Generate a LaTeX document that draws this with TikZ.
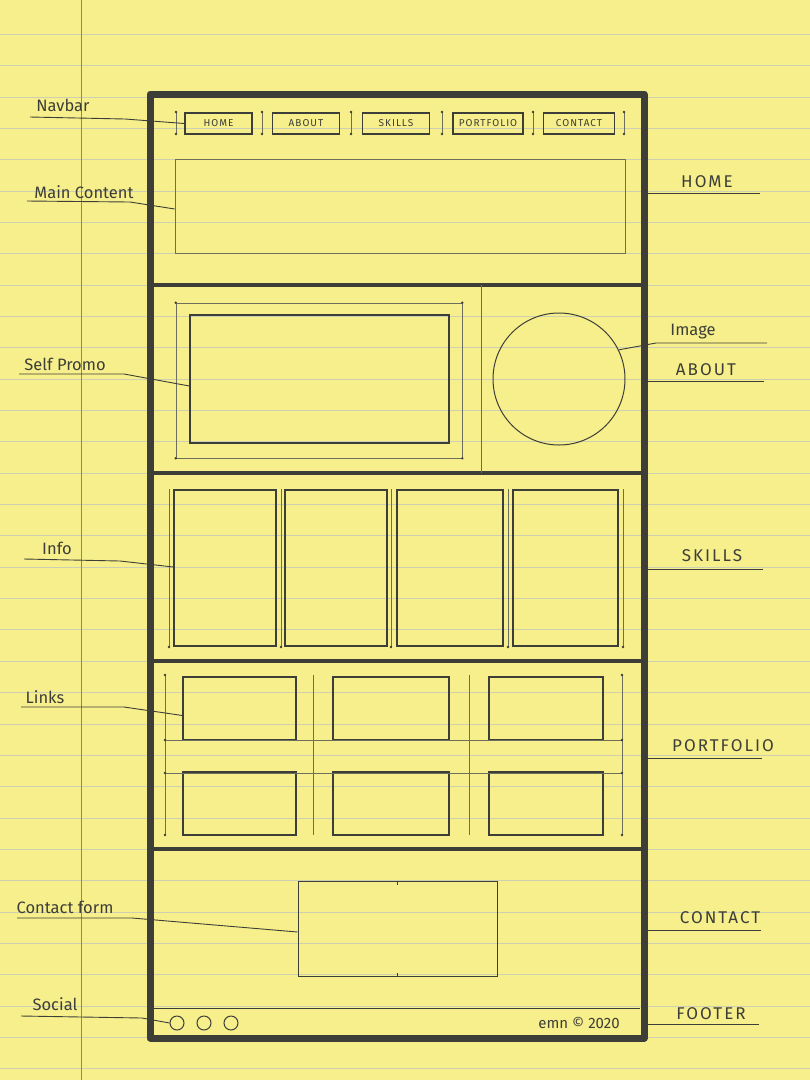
\documentclass[tikz,border=0pt]{standalone}
\usepackage{fontspec}
\setmainfont{Fira Sans}
\newfontfamily\navfont[LetterSpace=10]{Fira Sans}
\newfontfamily\capsfont[LetterSpace=12]{Fira Sans}
\usetikzlibrary{positioning,calc}
\definecolor{paper}{RGB}{246,239,140}
\definecolor{ruled}{RGB}{204,207,178}
\definecolor{margin}{RGB}{232,96,72}
\definecolor{ink}{RGB}{62,62,56}
\definecolor{pencil}{RGB}{110,110,92}
\tikzset{
  frame/.style={draw=ink, line width=7pt, line join=round, inner sep=0pt},
  divider/.style={ink, line width=4.5pt, line cap=round},
  box/.style={draw=ink, line width=1.2pt, inner sep=0pt},
  guide/.style={pencil, line width=0.5pt},
  leader/.style={ink, line width=0.9pt},
  tag/.style={text=ink, font=\fontsize{16.5}{19}\selectfont, inner sep=1pt},
  captag/.style={text=ink, font=\capsfont\fontsize{17}{20}\selectfont, inner sep=1pt},
  navbtn/.style={draw=ink, line width=1.2pt, minimum width=67pt, minimum height=21pt, inner sep=0pt, text=ink, font=\navfont\fontsize{10}{12}\selectfont},
  pin/.style={circle, fill=ink, inner sep=0pt, minimum size=2.6pt}
}

\begin{document}
\begin{tikzpicture}[x=1pt,y=-1pt]
\useasboundingbox (0,0) rectangle (810,1080);
\fill[paper] (0,0) rectangle (810,1080);
\foreach \k in {0,...,33}
  \draw[ruled, line width=0.7pt] (0,34.15+31.35*\k) -- (810,34.15+31.35*\k);
\draw[margin, line width=1pt] (81,0) -- (81,1080);

% page frame and sections
\node[frame, minimum width=494pt, minimum height=944pt] (page) at (397,566) {};
\foreach \y in {285,473,661,849}
  \draw[divider] (150,\y) -- (644,\y);

% navbar
\node[navbtn] (btnhome) at (218.5,123.5) {HOME};
\node[navbtn] (btnabout) at (306,123.5) {ABOUT};
\node[navbtn] (btnskills) at (396,123.5) {SKILLS};
\node[navbtn, minimum width=70pt] (btnportfolio) at (488,123.5) {PORTFOLIO};
\node[navbtn, minimum width=71pt] (btncontact) at (579,123.5) {CONTACT};
\foreach \x in {176,262,351,442,533,624} {
  \draw[guide] (\x,112) -- (\x,134);
  \node[pin] at (\x,112) {};
  \node[pin] at (\x,134) {};
}
\node[draw=pencil, line width=0.6pt, minimum width=450pt, minimum height=94pt, inner sep=0pt] (maincontent) at (400,206) {};

% about
\draw[guide] (481,285) -- (481,473);
\node[draw=pencil, line width=0.6pt, minimum width=286pt, minimum height=155pt, inner sep=0pt] (promoframe) at (319,380.5) {};
\foreach \c in {north west,north east,south west,south east}
  \node[pin] at (promoframe.\c) {};
\node[box, minimum width=259pt, minimum height=128pt] (promo) at (319.5,379) {};
\node[draw=ink, line width=1pt, circle, minimum size=132pt, inner sep=0pt] (avatar) at (559,379) {};

% skills
\foreach \xa/\xb [count=\i] in {174/276,285/387,397/503,513/618}
  \node[box, minimum width={(\xb-\xa)*1pt}, minimum height=156pt] (skill\i) at ({(\xa+\xb)/2},568) {};
\foreach \x in {169,281,391,508,623} {
  \draw[guide] (\x,489) -- (\x,647);
  \node[pin] at (\x,647) {};
}

% portfolio
\foreach \xa/\xb [count=\i] in {183/296,333/449,489/603} {
  \node[box, minimum width={(\xb-\xa)*1pt}, minimum height=63pt] (linkA\i) at ({(\xa+\xb)/2},708.5) {};
  \node[box, minimum width={(\xb-\xa)*1pt}, minimum height=63pt] (linkB\i) at ({(\xa+\xb)/2},803.5) {};
}
\foreach \x in {165,313.5,469,622}
  \draw[guide] (\x,675) -- (\x,835);
\foreach \y in {740,773}
  \draw[guide] (165,\y) -- (622,\y);
\foreach \x in {165,622}
  \foreach \y in {675,740,773,835}
    \node[pin] at (\x,\y) {};

% contact and footer
\node[draw=ink, line width=1pt, minimum width=199pt, minimum height=95pt, inner sep=0pt] (form) at (397.5,929) {};
\draw[ink, line width=0.8pt] (form.north) -- ++(0,4) (form.south) -- ++(0,-4);
\draw[ink, line width=1pt] (152,1008) -- (640,1008);
\foreach \x [count=\i] in {177,204,231}
  \node[draw=ink, line width=1pt, circle, minimum size=14pt, inner sep=0pt] (social\i) at (\x,1023) {};
\node[tag, font=\fontsize{15}{17}\selectfont] (copyright) at (579,1023) {emn © 2020};

% left labels
\node[tag] (lnavbar) at (63,105) {Navbar};
\coordinate (navbarA) at (30,117);
\coordinate (navbarB) at (125,119);
\draw[leader] (navbarA) -- (navbarB) -- (btnhome.west);

\node[tag] (lmain) at (84,192) {Main Content};
\coordinate (mainA) at (27,201);
\coordinate (mainB) at (130,202);
\draw[leader] (mainA) -- (mainB) -- ($(maincontent.west)+(0,3)$);

\node[tag] (lpromo) at (65,364) {Self Promo};
\coordinate (promoA) at (19,374);
\coordinate (promoB) at (124,374);
\draw[leader] (promoA) -- (promoB) -- ($(promo.west)+(0,7)$);

\node[tag] (linfo) at (57,548) {Info};
\coordinate (infoA) at (24,559);
\coordinate (infoB) at (120,561);
\draw[leader] (infoA) -- (infoB) -- ($(skill1.west)+(0,-1)$);

\node[tag] (llinks) at (45,697) {Links};
\coordinate (linksA) at (21,707);
\coordinate (linksB) at (124,707);
\draw[leader] (linksA) -- (linksB) -- ($(linkA1.west)+(0,7)$);

\node[tag] (lform) at (65,907) {Contact form};
\coordinate (formA) at (17,918);
\coordinate (formB) at (132,918);
\draw[leader] (formA) -- (formB) -- ($(form.west)+(0,3)$);

\node[tag] (lsocial) at (55,1004) {Social};
\coordinate (socialA) at (21,1016);
\coordinate (socialB) at (142,1018);
\draw[leader] (socialA) -- (socialB) -- (social1.west);

% right labels
\node[captag] (lhome) at (707,182) {HOME};
\draw[leader] (page.east |- 0,193) -- (760,193);
\node[tag] (limage) at (693,332) {Image};
\coordinate (imageB) at (656,343);
\draw[leader] (avatar.26) -- (imageB) -- (767,343);
\node[captag] (labout) at (706,370) {ABOUT};
\draw[leader] (page.east |- 0,381) -- (764,381);
\node[captag] (lskills) at (712,556) {SKILLS};
\draw[leader] (page.east |- 0,569) -- (763,569);
\node[captag] (lportfolio) at (723,746) {PORTFOLIO};
\draw[leader] (page.east |- 0,758) -- (762,758);
\node[captag] (lcontact) at (720,918) {CONTACT};
\draw[leader] (page.east |- 0,930) -- (761,930);
\node[captag] (lfooter) at (711,1014) {FOOTER};
\draw[leader] (page.east |- 0,1024) -- (759,1024);
\end{tikzpicture}
\end{document}
